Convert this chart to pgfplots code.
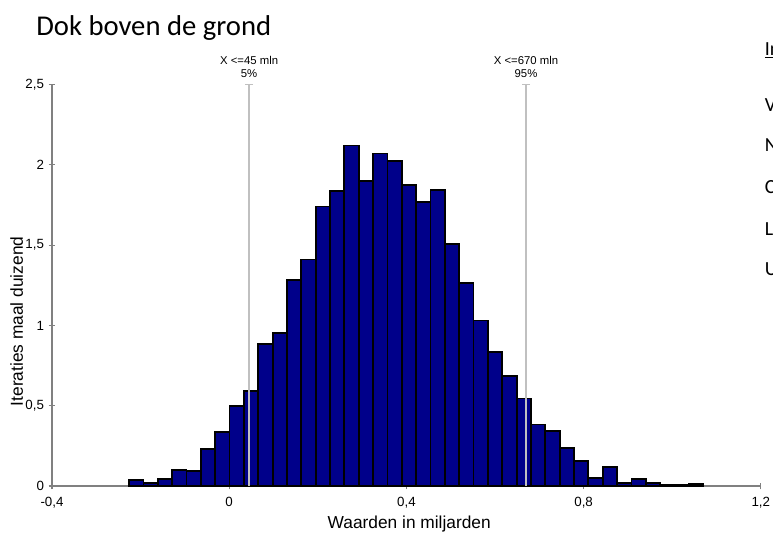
\documentclass[border=0pt]{standalone}
\usepackage{fontspec}
\setmainfont{Liberation Sans}
\newfontfamily\calibri{Carlito}
\usepackage{pgfplots}
\pgfplotsset{compat=1.18}

\definecolor{barblue}{HTML}{00008A}
\definecolor{pctgray}{HTML}{C0C0C0}
\definecolor{axgray}{HTML}{808080}

\begin{document}
\begin{tikzpicture}
\begin{axis}[
    at={(0,0)}, anchor=south west,
    scale only axis,
    width=531.6pt, height=301pt,
    xmin=-0.4, xmax=1.2, ymin=0, ymax=2.5,
    axis lines=left,
    axis line style={-, axgray, line width=0.8pt},
    xtick={-0.4,0,0.4,0.8,1.2},
    ytick={0,0.5,1,1.5,2,2.5},
    tick align=center,
    major tick length=5pt,
    tick style={axgray, line width=0.8pt},
    ticklabel style={font=\fontsize{10}{11}\selectfont},
    xticklabel style={yshift=-2pt},
    /pgf/number format/use comma,
    /pgf/number format/fixed,
    /pgf/number format/assume math mode=true,
    xlabel={Waarden in miljarden},
    ylabel={Iteraties maal duizend},
    xlabel style={font=\fontsize{13}{15}\selectfont, at={(axis description cs:0.504,-0.095)}, anchor=center},
    ylabel style={font=\fontsize{13}{15}\selectfont, at={(axis description cs:-0.05,0.41)}, anchor=center},
    clip=false,
]

% histogram, bin edges with the height of each bin
\addplot[ybar interval, fill=barblue, draw=black, line width=1.4pt] coordinates {
    (-0.2260,0.037) (-0.1936,0.021) (-0.1612,0.044) (-0.1288,0.100) (-0.0964,0.092)
    (-0.0640,0.228) (-0.0316,0.335) (0.0008,0.500) (0.0332,0.593) (0.0656,0.886)
    (0.0980,0.954) (0.1304,1.285) (0.1628,1.411) (0.1952,1.741) (0.2276,1.838)
    (0.2600,2.121) (0.2924,1.899) (0.3248,2.071) (0.3572,2.022) (0.3896,1.876)
    (0.4220,1.768) (0.4544,1.845) (0.4868,1.509) (0.5192,1.264) (0.5516,1.031)
    (0.5840,0.832) (0.6164,0.687) (0.6488,0.545) (0.6812,0.383) (0.7136,0.344)
    (0.7460,0.238) (0.7784,0.157) (0.8108,0.050) (0.8432,0.116) (0.8756,0.021)
    (0.9080,0.044) (0.9404,0.021) (0.9728,0.008) (1.0052,0.008) (1.0376,0.014)
    (1.0700,0.014)
};

% 5% and 95% markers
\addplot[pctgray, line width=1.8pt, mark=-, mark size=3pt, mark indices={2},
    mark options={solid, line width=1.2pt}] coordinates {(0.045,0) (0.045,2.5)};
\addplot[pctgray, line width=1.8pt, mark=-, mark size=3pt, mark indices={2},
    mark options={solid, line width=1.2pt}] coordinates {(0.67,0) (0.67,2.5)};

\node[above, align=center, font=\fontsize{8.5}{10}\selectfont, inner sep=1pt, yshift=4pt]
    at (axis cs:0.045,2.5) {X <=45 mln\\5\%};
\node[above, align=center, font=\fontsize{8.5}{10}\selectfont, inner sep=1pt, yshift=4pt]
    at (axis cs:0.67,2.5) {X <=670 mln\\95\%};
\end{axis}

\node[anchor=base west, inner sep=0, font=\calibri\fontsize{21.5}{24}\selectfont]
    at (-12pt,338pt) {Dok boven de grond};

% text box on the right, cut off by the edge of the picture
\begin{scope}[every node/.style={anchor=base west, inner sep=0, font=\calibri\fontsize{15}{18}\selectfont}]
\node at (534.5pt,323pt) {\underline{Invoer}};
\node at (534.5pt,281pt) {Verwachting};
\node at (534.5pt,251pt) {Normaal};
\node at (534.5pt,219pt) {Cumulatief};
\node at (534.5pt,187.5pt) {Links};
\node at (534.5pt,157.5pt) {Uitkomst};
\end{scope}

\pgfresetboundingbox
\useasboundingbox (-39pt,-36pt) rectangle (540.75pt,364.5pt);
\end{tikzpicture}
\end{document}
